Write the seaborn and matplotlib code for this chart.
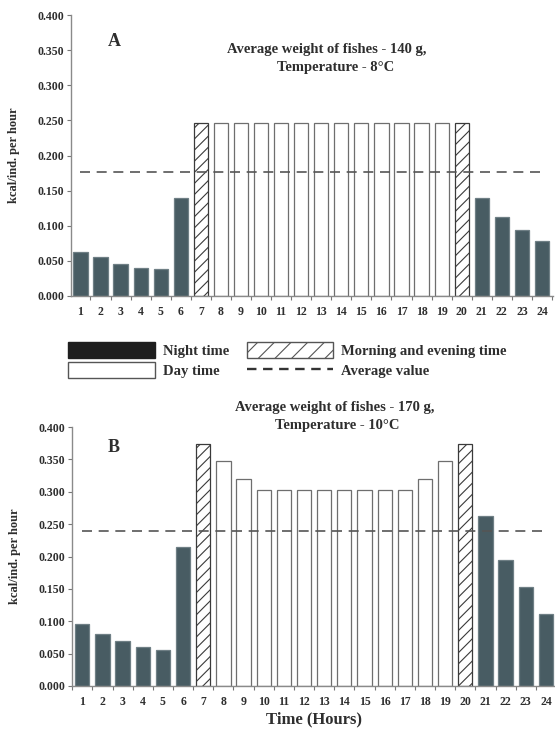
import matplotlib
matplotlib.use('Agg')
import matplotlib.pyplot as plt
import seaborn as sns
from matplotlib.patches import Patch
from matplotlib.lines import Line2D
from matplotlib.ticker import FixedLocator, MultipleLocator, FormatStrFormatter

hours = [str(h) for h in range(1, 25)]
period = ['night'] * 6 + ['twilight'] + ['day'] * 12 + ['twilight'] + ['night'] * 4

rate_a = [0.063, 0.055, 0.046, 0.040, 0.038, 0.140,
          0.246, 0.246, 0.246, 0.246, 0.246, 0.246, 0.246,
          0.246, 0.246, 0.246, 0.246, 0.246, 0.246, 0.246,
          0.140, 0.113, 0.094, 0.079]
avg_a = 0.176

rate_b = [0.096, 0.081, 0.069, 0.060, 0.056, 0.215,
          0.374, 0.347, 0.320, 0.303, 0.303, 0.303, 0.303,
          0.303, 0.303, 0.303, 0.303, 0.320, 0.347, 0.374,
          0.263, 0.195, 0.153, 0.111]
avg_b = 0.240

title_a = ['Average weight of fishes - 140 g,', 'Temperature - 8\u00b0C']
title_b = ['Average weight of fishes - 170 g,', 'Temperature - 10\u00b0C']

sns.set_style('ticks')
plt.rcParams['font.family'] = ['Liberation Serif', 'DejaVu Serif']
plt.rcParams['font.weight'] = 'bold'
plt.rcParams['hatch.linewidth'] = 0.8

NIGHT = '#485c63'
TXT = '#2e2e2e'
styles = {
    'night': dict(facecolor=NIGHT, edgecolor='#6f7f85', hatch=None),
    'day': dict(facecolor='white', edgecolor='#6e6e6e', hatch=None),
    'twilight': dict(facecolor='white', edgecolor='#3a3a3a', hatch='///'),
}

W, H = 555, 736
fig = plt.figure(figsize=(W / 100, H / 100), dpi=100)


def px_box(x0, y_top, x1, y_bot):
    return [x0 / W, 1 - y_bot / H, (x1 - x0) / W, (y_bot - y_top) / H]


def draw_panel(ax, rates, avg, letter, letter_xy, xlim):
    sns.barplot(x=hours, y=rates, color='white', width=0.71, ax=ax, linewidth=0.9)
    for bar, p in zip(ax.patches, period):
        st = styles[p]
        bar.set_facecolor(st['facecolor'])
        bar.set_edgecolor(st['edgecolor'])
        if st['hatch']:
            bar.set_hatch(st['hatch'])
    ax.hlines(avg, 0, len(hours) - 1, colors='#555555', linestyles=(0, (6, 4)), linewidth=1.2, zorder=5)

    ax.set_ylim(0, 0.4)
    ax.set_xlim(*xlim)
    ax.yaxis.set_major_locator(MultipleLocator(0.05))
    ax.yaxis.set_major_formatter(FormatStrFormatter('%.3f'))
    ax.xaxis.set_minor_locator(FixedLocator([i + 0.5 for i in range(-1, len(hours))]))
    ax.tick_params(axis='x', which='major', length=0, pad=7, labelsize=8.5, labelcolor=TXT)
    ax.tick_params(axis='x', which='minor', length=3, color='#777777', width=0.8)
    ax.tick_params(axis='y', length=3, color='#777777', width=0.8, pad=2, labelsize=8.5, labelcolor=TXT)
    for lab in ax.get_xticklabels() + ax.get_yticklabels():
        lab.set_fontweight('bold')

    sns.despine(ax=ax)
    for s in ['left', 'bottom']:
        ax.spines[s].set_color('#8a8a8a')
        ax.spines[s].set_linewidth(1.0)

    ax.set_ylabel('kcal/ind. per hour', fontsize=9, fontweight='bold', color=TXT)
    ax.yaxis.set_label_coords(-0.106, 0.5)
    ax.set_xlabel('')
    fig.text(letter_xy[0] / W, 1 - letter_xy[1] / H, letter, fontsize=13, fontweight='bold',
             color=TXT, ha='center', va='center')


ax_a = fig.add_axes(px_box(71, 15, 553, 296))
draw_panel(ax_a, rate_a, avg_a, 'A', (114, 42), (-0.47, 23.55))
fig.text(327 / W, 1 - 50 / H, title_a[0], fontsize=10.5, fontweight='bold', color=TXT, ha='center', va='center')
fig.text(336 / W, 1 - 68 / H, title_a[1], fontsize=10.5, fontweight='bold', color=TXT, ha='center', va='center')

ax_b = fig.add_axes(px_box(72, 427, 555, 686))
draw_panel(ax_b, rate_b, avg_b, 'B', (114, 447), (-0.51, 23.45))
fig.text(335 / W, 1 - 407 / H, title_b[0], fontsize=10.5, fontweight='bold', color=TXT, ha='center', va='center')
fig.text(337 / W, 1 - 425 / H, title_b[1], fontsize=10.5, fontweight='bold', color=TXT, ha='center', va='center')
ax_b.set_xlabel('Time (Hours)', fontsize=12, fontweight='bold', color=TXT, labelpad=3)

handles = [
    Patch(facecolor='#1e1e1e', edgecolor='#1e1e1e'),
    Patch(facecolor='white', edgecolor='#555555'),
    Patch(facecolor='white', edgecolor='#555555', hatch='//'),
    Line2D([], [], color='#333333', linestyle=(0, (4, 2.8)), linewidth=1.7),
]
labels = ['Night time', 'Day time', 'Morning and evening time', 'Average value']
fig.legend(handles, labels, ncol=2, loc='upper left', bbox_to_anchor=(68 / W, 1 - 342 / H),
           frameon=False, handlelength=5.95, handleheight=1.27, handletextpad=0.55,
           labelspacing=0.31, columnspacing=1.2, borderpad=0, borderaxespad=0,
           prop={'family': 'Liberation Serif', 'weight': 'bold', 'size': 10.5}, labelcolor=TXT)

fig.savefig('out.png', dpi=100)
